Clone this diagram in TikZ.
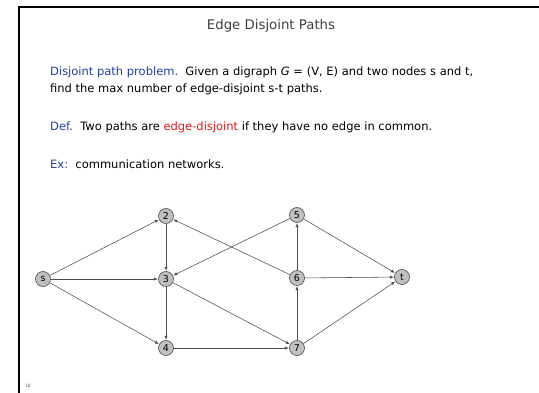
\documentclass[tikz,border=0pt]{standalone}
\usepackage{fontspec}
\setmainfont{DejaVu Sans}
\usepackage{tikz}
\usetikzlibrary{arrows.meta}
\definecolor{slBlue}{HTML}{1F3FA6}
\definecolor{slRed}{HTML}{E8161B}
\definecolor{slTitle}{HTML}{404040}
\definecolor{slNode}{HTML}{C0C0C0}
\definecolor{slEdge}{HTML}{4D4D4D}
\begin{document}
\begin{tikzpicture}[
  x=1pt,y=-1pt,>={Latex[length=4pt,width=3.2pt]},
  vertex/.style={draw=slEdge,line width=0.6pt,fill=slNode,circle,
                 minimum size=15pt,inner sep=0pt,font=\fontsize{9.5}{10}\selectfont},
  arc/.style={->,slEdge,line width=0.55pt,shorten >=0.3pt},
  line/.style={anchor=base west,inner sep=0pt,font=\fontsize{11.5}{13}\selectfont}
]
\useasboundingbox (0,0) rectangle (539,393);
% slide frame
\draw[line width=2pt] (19,393) -- (19,7) -- (539,7);
% texts
\node[text=slTitle,font=\fontsize{13.3}{15}\selectfont] (title) at (271,26) {Edge Disjoint Paths};
\node[line] (prob) at (50,76) {\textcolor{slBlue}{Disjoint path problem.}\ \ Given a digraph \textit{G} = (V, E) and two nodes s and t,};
\node[line] (prob2) at (50,93) {find the max number of edge-disjoint s-t paths.};
\node[line] (def) at (50,131) {\textcolor{slBlue}{Def.}\ \ Two paths are \textcolor{slRed}{edge-disjoint} if they have no edge in common.};
\node[line] (ex) at (50,169) {\textcolor{slBlue}{Ex:}\ \ communication networks.};
\node[text=black!60,font=\fontsize{4.5}{5}\selectfont] (page) at (28,386) {18};
% graph
\node[vertex] (s) at (43,279) {s};
\node[vertex] (v2) at (166,216) {2};
\node[vertex] (v3) at (166,279) {3};
\node[vertex] (v4) at (166,348) {4};
\node[vertex] (v5) at (297,215) {5};
\node[vertex] (v6) at (297,278) {6};
\node[vertex] (v7) at (297,348) {7};
\node[vertex] (t) at (402,277) {t};
\draw[arc] (s) -- (v2);
\draw[arc] (s) -- (v3);
\draw[arc] (s) -- (v4);
\draw[arc] (v2) -- (v3);
\draw[arc] (v3) -- (v4);
\draw[arc] (v5) -- (v3);
\draw[arc] (v6) -- (v2);
\draw[arc] (v3) -- (v7);
\draw[arc] (v4) -- (v7);
\draw[arc] (v7) -- (v6);
\draw[arc] (v6) -- (v5);
\draw[arc] (v5) -- (t);
\draw[arc] (v6) -- (t);
\draw[arc] (v7) -- (t);
\end{tikzpicture}
\end{document}
